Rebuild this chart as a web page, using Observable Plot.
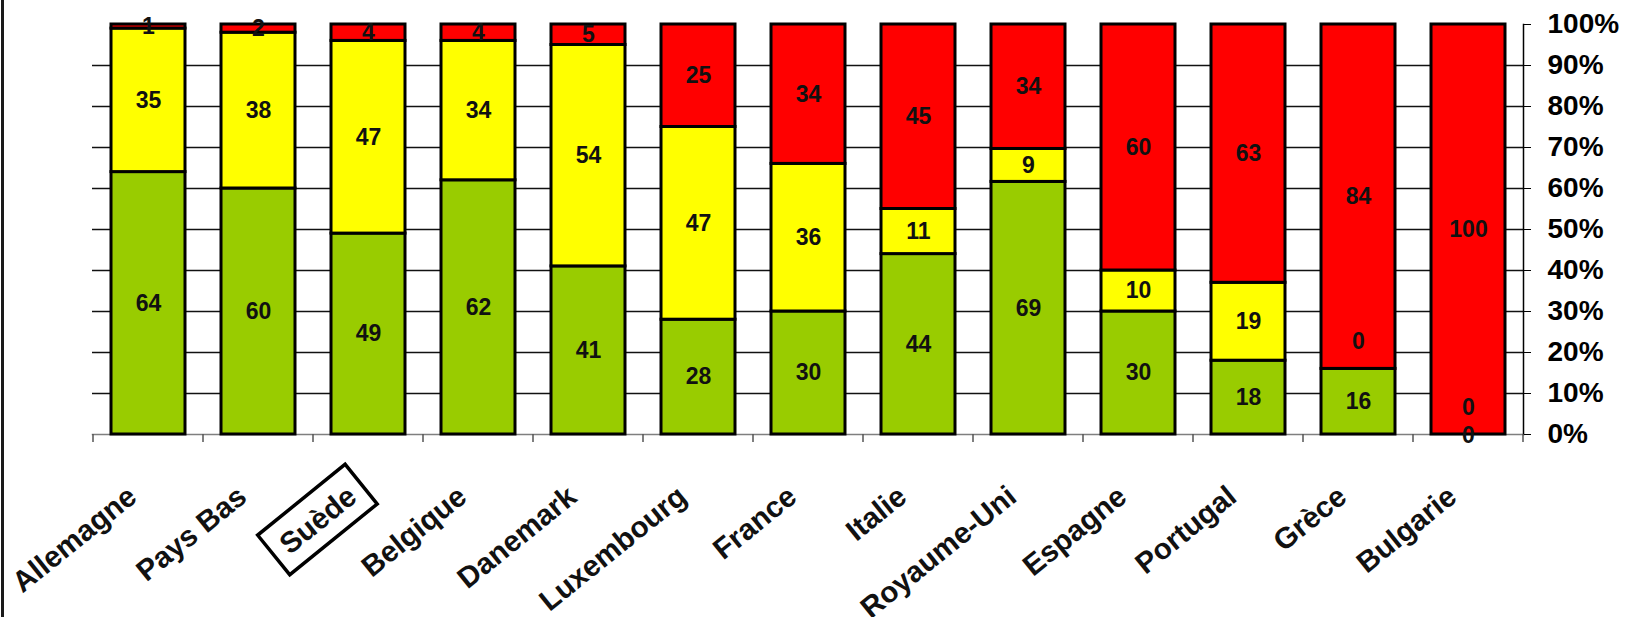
<!DOCTYPE html>
<html><head><meta charset="utf-8">
<script src="https://cdn.jsdelivr.net/npm/d3@7"></script>
<script src="https://cdn.jsdelivr.net/npm/@observablehq/plot@0.6"></script>
<style>
html,body{margin:0;padding:0;background:#fff;}
#chart{position:relative;width:1634px;height:617px;overflow:hidden;}
#edge{position:absolute;left:1px;top:0;width:3px;height:617px;background:#1a1a1a;}
</style></head><body><div id="chart"><div id="edge"></div></div>
<script>
const countries = ["Allemagne","Pays Bas","Suède","Belgique","Danemark","Luxembourg","France","Italie","Royaume-Uni","Espagne","Portugal","Grèce","Bulgarie"];
const greenValues  = [64,60,49,62,41,28,30,44,69,30,18,16,0];
const yellowValues = [35,38,47,34,54,47,36,11,9,10,19,0,0];
const redValues    = [1,2,4,4,5,25,34,45,34,60,63,84,100];
const seriesNames  = ["vert","jaune","rouge"];
const seriesColors = ["#99CC00","#FFFF00","#FF0000"];
const yTicks = [0,10,20,30,40,50,60,70,80,90,100];
const highlighted = ["Suède"];

// stacked, normalized rows (100% stacked bars)
const seriesValues = [greenValues, yellowValues, redValues];
const rows = [];
countries.forEach((c, i) => {
  const total = seriesValues.reduce((s, arr) => s + arr[i], 0);
  let cum = 0;
  seriesNames.forEach((s, k) => {
    const v = seriesValues[k][i];
    const y1 = cum / total * 100;
    cum += v;
    const y2 = cum / total * 100;
    rows.push({country: c, series: s, value: v, y1, y2, mid: (y1 + y2) / 2});
  });
});

const W = 1634, H = 617;
const FONT = "'Liberation Sans', Arial, sans-serif";

const plot = Plot.plot({
  width: W, height: H,
  marginTop: 24, marginBottom: 183, marginLeft: 92, marginRight: 111,
  style: {fontFamily: FONT, background: "transparent", color: "black"},
  x: {type: "band", domain: countries, paddingInner: 0.33, paddingOuter: 0.165, axis: null},
  y: {domain: [0, 100], label: null},
  color: {domain: seriesNames, range: seriesColors},
  marks: [
    Plot.gridY(yTicks.filter(t => t > 0 && t < 100), {stroke: "#111", strokeOpacity: 1, strokeWidth: 1.3}),
    Plot.frame({anchor: "bottom", stroke: "#7f7f7f", strokeWidth: 1.5}),
    Plot.barY(rows, {x: "country", y1: "y1", y2: "y2", fill: "series", stroke: "black", strokeWidth: 3}),
    Plot.frame({anchor: "right", stroke: "black", strokeWidth: 1.5}),
    Plot.axisY({anchor: "right", ticks: yTicks, tickFormat: d => d + "%", tickSize: 7, tickPadding: 17,
      fontSize: 28, fontWeight: "bold", label: null}),
    Plot.text(rows.filter(d => d.value !== 0), {x: "country", y: "mid", text: d => String(d.value),
      fontSize: 23, fontWeight: "bold", fill: "#111"}),
    Plot.text(rows.filter(d => d.value === 0 && d.series === "vert"), {x: "country", y: "mid", text: d => String(d.value),
      dy: 1, fontSize: 23, fontWeight: "bold", fill: "#111"}),
    Plot.text(rows.filter(d => d.value === 0 && d.series === "jaune"), {x: "country", y: "mid", text: d => String(d.value),
      dy: -27, fontSize: 23, fontWeight: "bold", fill: "#111"}),
    Plot.text(countries, {x: d => d, frameAnchor: "bottom", text: d => d, rotate: -39, textAnchor: "end",
      lineAnchor: "middle", dx: -16, dy: 58, fontSize: 29.5, fontWeight: "bold", fill: "#111"})
  ]
});

document.getElementById("chart").appendChild(plot);
const svg = d3.select(plot);

// category boundary ticks on the x axis
const xs = plot.scale("x"), ys = plot.scale("y");
const y0 = ys.apply(0);
const gap = xs.step - xs.bandwidth;
const bounds = countries.map(c => xs.apply(c) - gap / 2);
bounds.push(xs.apply(countries[countries.length - 1]) + xs.bandwidth + gap / 2);
const gt = svg.append("g");
bounds.forEach(b => {
  gt.append("line").attr("x1", b).attr("x2", b).attr("y1", y0).attr("y2", y0 + 8)
    .attr("stroke", "#555").attr("stroke-width", 1.5);
});

// box around highlighted category label
svg.selectAll("text").each(function() {
  if (highlighted.includes(this.textContent)) {
    const bb = this.getBBox();
    const padX = 12, padY = 9;
    d3.select(this.parentNode).insert("rect", () => this)
      .attr("transform", this.getAttribute("transform"))
      .attr("x", bb.x - padX).attr("y", bb.y - padY)
      .attr("width", bb.width + 2 * padX).attr("height", bb.height + 2 * padY)
      .attr("fill", "none").attr("stroke", "black").attr("stroke-width", 3.5);
  }
});
</script>
</body></html>
